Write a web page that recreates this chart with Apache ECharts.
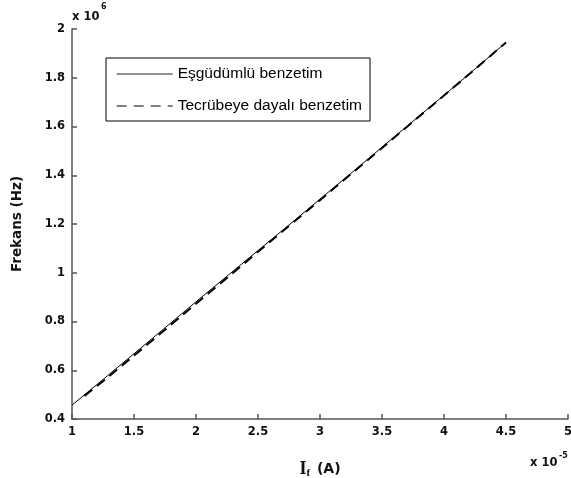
<!DOCTYPE html>
<html>
<head>
<meta charset="utf-8">
<script src="https://cdn.jsdelivr.net/npm/echarts@6/dist/echarts.min.js"></script>
<style>
html, body { margin: 0; padding: 0; background: #fff; }
#chart { width: 571px; height: 478px; }
</style>
</head>
<body>
<div id="chart"></div>
<script>
// akım (x 10^-5 A) ve frekans (x 10^6 Hz) değerleri
var solidX = [1, 1.25, 1.5, 1.75, 2, 2.25, 2.5, 2.75, 3, 3.25, 3.5, 3.75, 4, 4.25, 4.5];
var solidY = [0.457, 0.562, 0.668, 0.774, 0.881, 0.986, 1.091, 1.196, 1.302, 1.408, 1.515, 1.622, 1.728, 1.836, 1.945];
var dashX = [1.1, 1.25, 1.5, 1.75, 2, 2.25, 2.5, 2.75, 3, 3.25, 3.5, 3.75, 4, 4.25, 4.5];
var dashY = [0.495, 0.555, 0.660, 0.766, 0.873, 0.979, 1.086, 1.192, 1.298, 1.405, 1.512, 1.620, 1.727, 1.835, 1.945];
var seriesNames = ['Eşgüdümlü benzetim', 'Tecrübeye dayalı benzetim'];

function pairs(xs, ys) {
	var out = [];
	for (var i = 0; i < xs.length; i++) out.push([xs[i], ys[i]]);
	return out;
}

var chart = echarts.init(document.getElementById('chart'));
var axisColor = '#555';
var tickFont = { color: '#111', fontFamily: 'DejaVu Sans', fontWeight: 'bold', fontSize: 11.5 };

option = {
	animation: false,
	backgroundColor: '#fff',
	grid: { left: 72, right: 3, top: 29, bottom: 59, outerBoundsMode: 'none', containLabel: false },
	legend: {
		orient: 'vertical',
		left: 106,
		top: 58,
		padding: [8, 8, 7, 10],
		itemWidth: 56,
		itemHeight: 16,
		itemGap: 16,
		borderColor: '#000',
		borderWidth: 1,
		backgroundColor: '#fff',
		itemStyle: { opacity: 0 },
		textStyle: { fontFamily: 'Liberation Sans', fontSize: 15.5, color: '#000' },
		data: [
			{ name: seriesNames[0], lineStyle: { width: 1, color: '#222' } },
			{ name: seriesNames[1], lineStyle: { width: 1.3, color: '#555', type: [10, 7] } }
		]
	},
	xAxis: {
		type: 'value',
		min: 1,
		max: 5,
		interval: 0.5,
		name: '{i|I}{s|f}{a| (A)}',
		nameLocation: 'middle',
		nameGap: 40,
		nameTextStyle: {
			rich: {
				i: { fontFamily: 'Liberation Serif', fontWeight: 'bold', fontSize: 18, color: '#111' },
				s: { fontFamily: 'Liberation Serif', fontWeight: 'bold', fontSize: 11, color: '#111', padding: [9, 2, 0, 0] },
				a: { fontFamily: 'DejaVu Sans', fontWeight: 'bold', fontSize: 14, color: '#111' }
			}
		},
		axisLine: { lineStyle: { color: axisColor, width: 1.5 } },
		axisTick: { inside: true, length: 5, lineStyle: { color: axisColor, width: 1.5 } },
		axisLabel: Object.assign({ margin: 7 }, tickFont),
		splitLine: { show: false }
	},
	yAxis: {
		type: 'value',
		min: 0.4,
		max: 2,
		interval: 0.2,
		name: 'Frekans (Hz)',
		nameLocation: 'middle',
		nameRotate: 90,
		nameGap: 48,
		nameTextStyle: { fontFamily: 'DejaVu Sans', fontWeight: 'bold', fontSize: 13.5, color: '#111' },
		axisLine: { show: true, lineStyle: { color: axisColor, width: 1.5 } },
		axisTick: { show: true, inside: true, length: 5, lineStyle: { color: axisColor, width: 1.5 } },
		axisLabel: Object.assign({ margin: 7 }, tickFont),
		splitLine: { show: false }
	},
	graphic: [
		{ type: 'text', left: 72, top: 11, style: { text: 'x 10', fill: '#111', font: 'bold 11.5px "DejaVu Sans"' } },
		{ type: 'text', left: 101, top: 3, style: { text: '6', fill: '#111', font: 'bold 8px "DejaVu Sans"' } },
		{ type: 'text', left: 530, top: 457, style: { text: 'x 10', fill: '#111', font: 'bold 11.5px "DejaVu Sans"' } },
		{ type: 'text', left: 559, top: 452, style: { text: '-5', fill: '#111', font: 'bold 8px "DejaVu Sans"' } }
	],
	series: [
		{
			name: seriesNames[0],
			type: 'line',
			symbol: 'none',
			data: pairs(solidX, solidY),
			lineStyle: { color: '#000', width: 1 },
			itemStyle: { color: '#000' }
		},
		{
			name: seriesNames[1],
			type: 'line',
			symbol: 'none',
			data: pairs(dashX, dashY),
			lineStyle: { color: '#000', width: 2, type: [10, 6] },
			itemStyle: { color: '#000' }
		}
	]
};

chart.setOption(option);
</script>
</body>
</html>
